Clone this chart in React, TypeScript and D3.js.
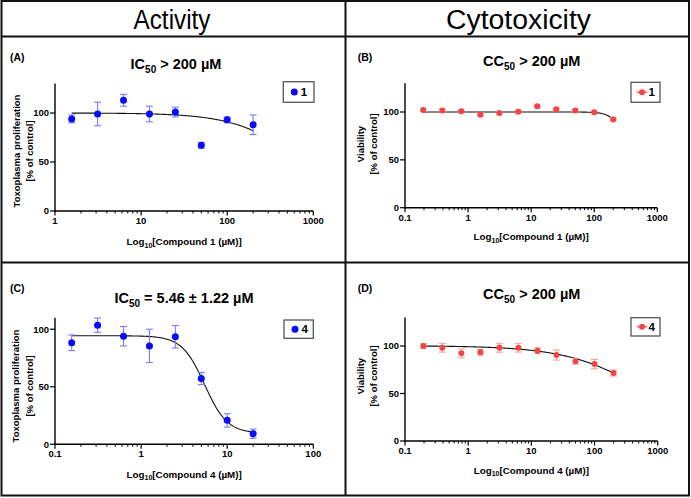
import React from "react";
import * as d3 from "d3";

// ---------- data ----------
const CONC_A = [1.5625, 3.125, 6.25, 12.5, 25, 50, 100, 200];
const MEAN_A = [94, 99, 113, 99, 101, 67, 93, 88];
const ERR_A = [4, 12, 6, 8, 5, 3, 3, 10];
const FIT_A = [0, 100, 746, 1.15]; // bottom, top, IC50, hill

const CONC_B = [0.195, 0.39, 0.78, 1.5625, 3.125, 6.25, 12.5, 25, 50, 100, 200];
const MEAN_B = [102, 101.7, 100.7, 97.2, 98.9, 100.3, 105.9, 102.8, 101.7, 99.7, 92.3];
const ERR_B = [1.5, 1.5, 1.5, 1.5, 1.5, 1.5, 1.5, 1.5, 1.5, 1.5, 1.5];
const FIT_B = [0, 100, 363, 4.1];

const CONC_C = [0.15625, 0.3125, 0.625, 1.25, 2.5, 5, 10, 20];
const MEAN_C = [88.2, 103.5, 93.9, 85.5, 93.4, 57.2, 20.8, 9.2];
const ERR_C = [6.8, 6.2, 8.4, 14.5, 9.8, 5.3, 5.8, 4];
const FIT_C = [9.5, 94.3, 5.46, 3.3];

const CONC_D = [0.195, 0.39, 0.78, 1.5625, 3.125, 6.25, 12.5, 25, 50, 100, 200];
const MEAN_D = [100, 98.2, 92.3, 93.3, 98.2, 98.2, 95.1, 90.5, 83.9, 81, 71.6];
const ERR_D = [2.5, 4.6, 4.7, 3, 4.7, 4.6, 3, 5.3, 3, 4.9, 3.2];
const FIT_D = [0, 100.3, 743, 0.69];

const Y_TICKS = [0, 50, 100];
const COLUMN_HEADERS = ["Activity", "Cytotoxicity"];

const BLUE = "#0a0aff";
const BLUE_ERR = "#7a7aff";
const RED = "#f24646";
const RED_ERR = "#f7a0a0";
const FONT = "Liberation Sans, Arial, sans-serif";

type PanelCfg = {
  letter: string;
  letterX: number;
  letterY: number;
  titleMain: string;
  titleSub: string;
  titleRest: string;
  titleX: number;
  titleY: number;
  xRange: [number, number];
  xDomain: [number, number];
  yRange: [number, number];
  yDomain: [number, number];
  conc: number[];
  mean: number[];
  err: number[];
  fit: number[];
  color: string;
  errColor: string;
  r: number;
  yLabel1: string;
  yLabel2: string;
  yLabX: [number, number];
  yLabCenter: number;
  xLabelCompound: string;
  xLabelY: number;
  legend: [number, number, number, number];
  legendText: string;
  legendLine: boolean;
};

const panels: PanelCfg[] = [
  {
    letter: "(A)", letterX: 10, letterY: 61,
    titleMain: "IC", titleSub: "50", titleRest: " > 200 µM", titleX: 176, titleY: 68.5,
    xRange: [55, 313.3], xDomain: [1, 1000], yRange: [211, 83.6], yDomain: [0, 130],
    conc: CONC_A, mean: MEAN_A, err: ERR_A, fit: FIT_A,
    color: BLUE, errColor: BLUE_ERR, r: 3.5,
    yLabel1: "Toxoplasma proliferation", yLabel2: "[% of control]", yLabX: [19.5, 32.5], yLabCenter: 151,
    xLabelCompound: "1", xLabelY: 245,
    legend: [283.3, 81.7, 30.7, 20.6], legendText: "1", legendLine: false,
  },
  {
    letter: "(B)", letterX: 357.7, letterY: 60.7,
    titleMain: "CC", titleSub: "50", titleRest: " > 200 µM", titleX: 531.7, titleY: 66,
    xRange: [405, 657.3], xDomain: [0.1, 1000], yRange: [207.7, 83.3], yDomain: [0, 130],
    conc: CONC_B, mean: MEAN_B, err: ERR_B, fit: FIT_B,
    color: RED, errColor: RED_ERR, r: 3,
    yLabel1: "Viability", yLabel2: "[% of control]", yLabX: [363.5, 377], yLabCenter: 144,
    xLabelCompound: "1", xLabelY: 240,
    legend: [631, 82.3, 29, 20], legendText: "1", legendLine: true,
  },
  {
    letter: "(C)", letterX: 10, letterY: 292.3,
    titleMain: "IC", titleSub: "50", titleRest: " = 5.46 ± 1.22 µM", titleX: 184, titleY: 302.7,
    xRange: [55, 313.3], xDomain: [0.1, 100], yRange: [444.3, 317.7], yDomain: [0, 110],
    conc: CONC_C, mean: MEAN_C, err: ERR_C, fit: FIT_C,
    color: BLUE, errColor: BLUE_ERR, r: 3.5,
    yLabel1: "Toxoplasma proliferation", yLabel2: "[% of control]", yLabX: [19, 32.5], yLabCenter: 386,
    xLabelCompound: "4", xLabelY: 477.5,
    legend: [284, 320, 29.3, 18.3], legendText: "4", legendLine: false,
  },
  {
    letter: "(D)", letterX: 357.7, letterY: 292.3,
    titleMain: "CC", titleSub: "50", titleRest: " > 200 µM", titleX: 531.7, titleY: 299.3,
    xRange: [405, 657.7], xDomain: [0.1, 1000], yRange: [441, 317.5], yDomain: [0, 130],
    conc: CONC_D, mean: MEAN_D, err: ERR_D, fit: FIT_D,
    color: RED, errColor: RED_ERR, r: 3,
    yLabel1: "Viability", yLabel2: "[% of control]", yLabX: [363.5, 377], yLabCenter: 376,
    xLabelCompound: "4", xLabelY: 473.5,
    legend: [631, 317.7, 29, 18.3], legendText: "4", legendLine: true,
  },
];

function hill(fit: number[], x: number) {
  const [bottom, top, ic50, h] = fit;
  return bottom + (top - bottom) / (1 + Math.pow(x / ic50, h));
}

function Panel({ p }: { p: PanelCfg }) {
  const x = d3.scaleLog().domain(p.xDomain).range(p.xRange);
  const y = d3.scaleLinear().domain(p.yDomain).range(p.yRange);
  const y0 = p.yRange[0];
  const x0 = p.xRange[0];

  const lo = Math.log10(d3.min(p.conc) as number);
  const hi = Math.log10(d3.max(p.conc) as number);
  const curvePts = d3.range(0, 201).map((i) => {
    const c = Math.pow(10, lo + ((hi - lo) * i) / 200);
    return [c, hill(p.fit, c)] as [number, number];
  });
  const line = d3
    .line<[number, number]>()
    .x((d) => x(d[0]))
    .y((d) => y(d[1]))
    .curve(d3.curveLinear);

  const decades: number[] = [];
  for (let e = Math.round(Math.log10(p.xDomain[0])); e <= Math.round(Math.log10(p.xDomain[1])); e++) decades.push(Math.pow(10, e));
  const minor: number[] = [];
  decades.slice(0, -1).forEach((d) => {
    for (let k = 2; k <= 9; k++) minor.push(d * k);
  });
  const fmt = (v: number) => (v < 1 ? String(v) : String(Math.round(v)));
  const xMid = (p.xRange[0] + p.xRange[1]) / 2;
  const [lx, ly, lw, lh] = p.legend;

  return (
    <g fontFamily={FONT} fontWeight="bold">
      <text x={p.letterX} y={p.letterY} fontSize={10.5}>{p.letter}</text>
      <text x={p.titleX} y={p.titleY} fontSize={14.5} textAnchor="middle">
        {p.titleMain}
        <tspan fontSize={10} dy={4}>{p.titleSub}</tspan>
        <tspan dy={-4}>{p.titleRest}</tspan>
      </text>

      {/* axes */}
      <line x1={x0} x2={x0} y1={p.yRange[1]} y2={y0 + 0.7} stroke="#000" strokeWidth={1.4} />
      <line x1={x0 - 0.7} x2={p.xRange[1]} y1={y0} y2={y0} stroke="#000" strokeWidth={1.4} />
      {Y_TICKS.map((t) => (
        <g key={"yt" + t}>
          <line x1={x0 - 5} x2={x0} y1={y(t)} y2={y(t)} stroke="#000" strokeWidth={1.2} />
          <text x={x0 - 6} y={y(t) + 3.3} fontSize={9.5} textAnchor="end">{t}</text>
        </g>
      ))}
      {decades.map((t) => (
        <g key={"xt" + t}>
          <line x1={x(t)} x2={x(t)} y1={y0} y2={y0 + 4.5} stroke="#000" strokeWidth={1.2} />
          <text x={x(t)} y={y0 + 13} fontSize={9.5} textAnchor="middle">{fmt(t)}</text>
        </g>
      ))}
      {minor.map((t) => (
        <line key={"mt" + t} x1={x(t)} x2={x(t)} y1={y0} y2={y0 + 2.5} stroke="#000" strokeWidth={1} />
      ))}

      {/* axis labels */}
      <text x={xMid} y={p.xLabelY} fontSize={9.8} textAnchor="middle">
        Log<tspan fontSize={7} dy={2.5}>10</tspan>
        <tspan dy={-2.5}>{`[Compound ${p.xLabelCompound} (µM)]`}</tspan>
      </text>
      <text transform={`translate(${p.yLabX[0]},${p.yLabCenter}) rotate(-90)`} fontSize={9.5} textAnchor="middle">{p.yLabel1}</text>
      <text transform={`translate(${p.yLabX[1]},${p.yLabCenter}) rotate(-90)`} fontSize={9.5} textAnchor="middle">{p.yLabel2}</text>

      {/* fit curve */}
      <path d={line(curvePts) || ""} fill="none" stroke="#111" strokeWidth={1.1} />

      {/* error bars */}
      {p.conc.map((c, i) => {
        const cx = x(c);
        const top = y(p.mean[i] + p.err[i]);
        const bot = y(p.mean[i] - p.err[i]);
        return (
          <g key={"e" + i} stroke={p.errColor} strokeWidth={1.1}>
            <line x1={cx} x2={cx} y1={top} y2={bot} />
            <line x1={cx - 3.5} x2={cx + 3.5} y1={top} y2={top} />
            <line x1={cx - 3.5} x2={cx + 3.5} y1={bot} y2={bot} />
          </g>
        );
      })}
      {p.conc.map((c, i) => (
        <circle key={"p" + i} cx={x(c)} cy={y(p.mean[i])} r={p.r} fill={p.color} />
      ))}

      {/* legend */}
      <rect x={lx} y={ly} width={lw} height={lh} fill="#fff" stroke="#555" strokeWidth={1.3} />
      {p.legendLine && (
        <line x1={lx + 6} x2={lx + 16} y1={ly + lh / 2} y2={ly + lh / 2} stroke={p.color} strokeWidth={1.2} />
      )}
      <circle cx={lx + 11} cy={ly + lh / 2} r={p.r} fill={p.color} />
      <text x={lx + 17.5} y={ly + lh / 2 + 4} fontSize={11.5}>{p.legendText}</text>
    </g>
  );
}

export default function App() {
  return (
    <div style={{ position: "absolute", left: 0, top: 0 }}>
      <svg width={691} height={498} style={{ display: "block", background: "#fff" }}>
        <rect x={0} y={0} width={691} height={498} fill="#fff" />
        {/* table frame */}
        <rect x={1.5} y={1} width={687.5} height={494.5} fill="none" stroke="#111" strokeWidth={2} />
        <line x1={1} x2={690} y1={36.5} y2={36.5} stroke="#111" strokeWidth={2} />
        <line x1={1} x2={690} y1={262.5} y2={262.5} stroke="#111" strokeWidth={2} />
        <line x1={345.5} x2={345.5} y1={1} y2={496} stroke="#111" strokeWidth={2} />
        <text x={172} y={28.5} fontSize={27} fontFamily={FONT} textAnchor="middle" textLength={77} lengthAdjust="spacingAndGlyphs">{COLUMN_HEADERS[0]}</text>
        <text x={518.5} y={28.5} fontSize={27} fontFamily={FONT} textAnchor="middle" textLength={145} lengthAdjust="spacingAndGlyphs">{COLUMN_HEADERS[1]}</text>
        {panels.map((p) => (
          <Panel key={p.letter} p={p} />
        ))}
      </svg>
    </div>
  );
}
